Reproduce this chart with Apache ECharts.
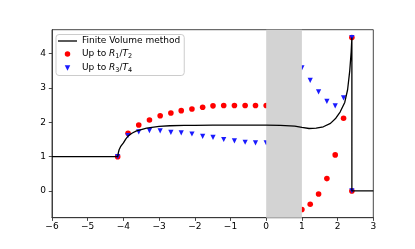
<!DOCTYPE html>
<html>
<head>
<meta charset="utf-8">
<script src="https://cdn.jsdelivr.net/npm/echarts@6/dist/echarts.min.js"></script>
<style>html,body{margin:0;padding:0;background:#fff}#c{width:415px;height:249px}</style>
</head>
<body>
<div id="c"></div>
<script>
// ---- data ----
const fvX = [-6, -4.16, -4.14, -4.12, -4.08, -4.0, -3.93, -3.86, -3.75, -3.63, -3.5, -3.35, -3.15, -3.0, -2.7, -2.3, -2.0, -1.5, -1.0, -0.5, 0.0, 0.4, 0.8, 1.0, 1.2, 1.4, 1.6, 1.8, 1.95, 2.07, 2.2, 2.28, 2.34, 2.38, 2.4, 2.4, 3.0];
const fvY = [1.0, 1.0, 1.12, 1.2, 1.29, 1.4, 1.52, 1.61, 1.69, 1.75, 1.79, 1.83, 1.86, 1.88, 1.9, 1.91, 1.91, 1.92, 1.92, 1.92, 1.92, 1.91, 1.89, 1.85, 1.82, 1.83, 1.87, 1.97, 2.12, 2.3, 2.58, 2.95, 3.5, 4.05, 4.47, 0.0, 0.0];

const ptsLeftX = [-4.16, -3.87, -3.57, -3.27, -2.97, -2.67, -2.38, -2.08, -1.78, -1.49, -1.19, -0.89, -0.59, -0.30, 0.0];
const ptsRightX = [1.0, 1.233, 1.467, 1.7, 1.933, 2.167, 2.4, 2.4];

const r1Left = [1.0, 1.68, 1.92, 2.07, 2.19, 2.27, 2.34, 2.39, 2.44, 2.48, 2.49, 2.49, 2.49, 2.49, 2.49];
const r1Right = [-0.54, -0.39, -0.09, 0.36, 1.05, 2.12, 4.47, 0.0];

const r3Left = [1.0, 1.61, 1.72, 1.76, 1.75, 1.71, 1.69, 1.66, 1.59, 1.56, 1.50, 1.46, 1.42, 1.40, 1.40];
const r3Right = [3.59, 3.22, 2.89, 2.61, 2.48, 2.71, 4.47, 0.0];

const spanX = [0, 1];
const yTicks = [0, 1, 2, 3, 4];
const seriesNames = ['Finite Volume method', 'Up to R1/T2', 'Up to R3/T4'];

// ---- build ----
const zip = (xs, ys) => xs.map((x, i) => [x, ys[i]]);
const fvData = zip(fvX, fvY);
const r1Data = zip(ptsLeftX, r1Left).concat(zip(ptsRightX, r1Right));
const r3Data = zip(ptsLeftX, r3Left).concat(zip(ptsRightX, r3Right));
const minus = v => String(v).replace('-', '\u2212');
const FONT = 'DejaVu Sans';
const triDown = 'path://M0,0 L10,0 L5,10 Z';
const lineIcon = 'path://M0,0 L19,0 L19,1.3 L0,1.3 Z';

const chart = echarts.init(document.getElementById('c'), null, {renderer: 'canvas'});
chart.setOption({
  animation: false,
  backgroundColor: '#fff',
  grid: {left: 52, right: 41.7, top: 29.7, bottom: 31.3, show: true, borderColor: '#333', borderWidth: 0.9, backgroundColor: 'transparent'},
  xAxis: {
    type: 'value', min: -6, max: 3, interval: 1,
    splitLine: {show: false},
    axisLine: {show: true, onZero: false, lineStyle: {color: '#333', width: 0.9}},
    axisTick: {show: true, length: 3.2, lineStyle: {color: '#333', width: 0.9}},
    axisLabel: {color: '#000', fontFamily: FONT, fontSize: 9, margin: 4, formatter: v => minus(v)}
  },
  yAxis: {
    type: 'value', min: -0.78, max: 4.70,
    splitLine: {show: false},
    axisLine: {show: true, onZero: false, lineStyle: {color: '#333', width: 0.9}},
    axisTick: {show: true, length: 3.2, customValues: yTicks, lineStyle: {color: '#333', width: 0.9}},
    axisLabel: {color: '#000', fontFamily: FONT, fontSize: 9, margin: 6, customValues: yTicks, formatter: v => minus(v)}
  },
  legend: {
    orient: 'vertical', left: 56, top: 34.5,
    data: [
      {name: seriesNames[0], icon: lineIcon},
      {name: seriesNames[1], icon: 'circle'},
      {name: seriesNames[2], icon: triDown}
    ],
    itemWidth: 19, itemHeight: 5.5, itemGap: 3,
    padding: [2, 4, 2, 2],
    backgroundColor: 'rgba(255,255,255,0.8)',
    borderColor: '#ccc', borderWidth: 1, borderRadius: 3,
    formatter: function (name) {
      if (name === seriesNames[1]) return '{t|Up to }{i|R}{s|1}{t|/}{i|T}{s|2}';
      if (name === seriesNames[2]) return '{t|Up to }{i|R}{s|3}{t|/}{i|T}{s|4}';
      return '{t|' + name + '}';
    },
    textStyle: {
      color: '#000', fontFamily: FONT, fontSize: 9,
      rich: {
        t: {fontFamily: FONT, fontSize: 9, color: '#000', lineHeight: 11, verticalAlign: 'middle'},
        i: {fontFamily: FONT, fontSize: 9, fontStyle: 'italic', color: '#000', lineHeight: 11, verticalAlign: 'middle'},
        s: {fontFamily: FONT, fontSize: 6.5, color: '#000', lineHeight: 11, verticalAlign: 'bottom', padding: [4, 0, 0, 0]}
      }
    }
  },
  series: [
    {
      name: seriesNames[0], type: 'line', data: fvData, z: 4,
      symbol: 'none', smooth: false,
      lineStyle: {color: '#000', width: 1.3},
      itemStyle: {color: '#000'}
    },
    {
      name: seriesNames[1], type: 'scatter', data: r1Data, z: 2,
      symbol: 'circle', symbolSize: 5.6,
      itemStyle: {color: '#ff0000', opacity: 1}
    },
    {
      name: seriesNames[2], type: 'scatter', data: r3Data, z: 2,
      symbol: triDown, symbolSize: [5.2, 5.2],
      itemStyle: {color: '#1a1aff', opacity: 1}
    },
    {
      name: 'span', type: 'line', data: [], z: 3,
      markArea: {
        silent: true, z: 3,
        itemStyle: {color: '#d3d3d3', opacity: 1},
        data: [[{xAxis: spanX[0]}, {xAxis: spanX[1]}]]
      }
    }
  ]
});
</script>
</body>
</html>
